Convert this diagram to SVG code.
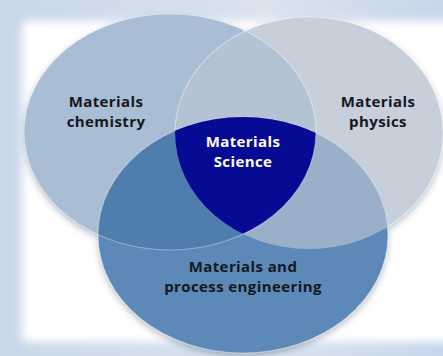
<svg xmlns="http://www.w3.org/2000/svg" width="443" height="356" viewBox="0 0 443 356">
<defs>
<style>
.lbl{font-family:"Open Sans","Liberation Sans",sans-serif;font-weight:700;font-size:15px;letter-spacing:0.4px;text-anchor:middle;fill:#15181e}
.wlbl{fill:#ffffff}
.rim{fill:none;stroke:#ffffff;stroke-opacity:0.35;stroke-width:1.2}
</style>
<linearGradient id="topg" x1="0" y1="0" x2="1" y2="0">
<stop offset="0" stop-color="#c9d7e9"/>
<stop offset="0.6" stop-color="#dbe4ef"/>
<stop offset="1" stop-color="#c7d6ea"/>
</linearGradient>
<filter id="soft" x="-10%" y="-10%" width="120%" height="120%"><feGaussianBlur stdDeviation="4"/></filter>
<filter id="shadow" x="-10%" y="-10%" width="120%" height="130%"><feDropShadow dx="0" dy="3" stdDeviation="3" flood-color="#2a3f5a" flood-opacity="0.35"/></filter>
<clipPath id="cL"><ellipse cx="170" cy="132" rx="146" ry="118"/></clipPath>
<clipPath id="cR"><ellipse cx="309" cy="133" rx="134" ry="116"/></clipPath>
<clipPath id="cB"><ellipse cx="243" cy="235" rx="145" ry="118"/></clipPath>
</defs>
<rect x="0" y="0" width="443" height="356" fill="url(#topg)"/>
<rect x="22" y="21" width="440" height="321" rx="6" fill="#ffffff" filter="url(#soft)"/>
<g filter="url(#shadow)">
<g id="chemistry">
<ellipse cx="170" cy="132" rx="146" ry="118" fill="#a9bdd5"/>
</g>
<g id="physics">
<ellipse cx="309" cy="133" rx="134" ry="116" fill="#c6cfda"/>
<g clip-path="url(#cL)"><ellipse cx="309" cy="133" rx="134" ry="116" fill="#b4c3d4"/></g>
<ellipse class="rim" cx="309" cy="133" rx="134" ry="116"/>
</g>
<g id="engineering">
<ellipse cx="243" cy="235" rx="145" ry="118" fill="#5c89b8"/>
<g clip-path="url(#cB)"><ellipse cx="170" cy="132" rx="146" ry="118" fill="#4f7dae"/></g>
<g clip-path="url(#cB)"><ellipse cx="309" cy="133" rx="134" ry="116" fill="#9ab0c8"/></g>
<ellipse class="rim" cx="243" cy="235" rx="145" ry="118"/>
</g>
</g>
<g id="science">
<g clip-path="url(#cL)"><g clip-path="url(#cR)"><ellipse cx="243" cy="235" rx="145" ry="118" fill="#070a92"/></g></g>
</g>
<ellipse class="rim" cx="170" cy="132" rx="146" ry="118"/>
<g id="labels">
<text class="lbl" x="106" y="107">Materials</text>
<text class="lbl" x="106" y="127">chemistry</text>
<text class="lbl" x="378" y="107">Materials</text>
<text class="lbl" x="378" y="127">physics</text>
<text class="lbl wlbl" x="243" y="147">Materials</text>
<text class="lbl wlbl" x="243" y="167">Science</text>
<text class="lbl" x="243" y="272">Materials and</text>
<text class="lbl" x="243" y="292">process engineering</text>
</g>
</svg>
